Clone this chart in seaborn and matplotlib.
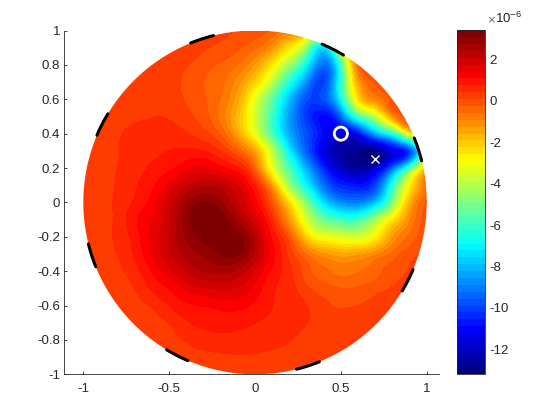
import numpy as np
import matplotlib
matplotlib.use('Agg')
import matplotlib.pyplot as plt
import matplotlib.tri as mtri
from matplotlib.colors import LinearSegmentedColormap
import seaborn as sns

# field samples, units of 1e-6
x_grid = np.round(np.arange(-1, 1.01, 0.1), 1)
y_grid = np.round(np.arange(1, -1.01, -0.1), 1)
field_rows = [
    [.25, .25, .25, .25, .25, .25, .25, .25, .15, .05, -.1, -.3, -.8, -1.5, -3, -1.5, -.3, 0, .05, .1, .2],
    [.25, .25, .25, .25, .25, .25, .25, .12, 0, -.2, -.5, -1.2, -2.5, -4.8, -7.5, -3.5, -.3, .1, .2, .2, .2],
    [.25, .25, .25, .25, .25, .2, .1, -.1, -.3, -.6, -1.3, -2.6, -4.5, -7, -9.3, -6, -.6, .1, .2, .2, .2],
    [.25, .25, .25, .25, .25, .15, .02, -.25, -.5, -1.1, -2.2, -4, -6.5, -8.8, -10, -6.3, -1.5, -.2, .15, .2, .2],
    [.25, .25, .25, .25, .3, .2, .05, -.2, -.6, -1.5, -3.3, -5.5, -8, -9.8, -9.8, -7, -2.5, -1, -.1, .1, .2],
    [.25, .25, .3, .35, .4, .38, .18, -.1, -.7, -1.8, -3.6, -6, -8.5, -10.2, -11, -9.5, -6, -4, -1.2, -.1, .1],
    [.25, .3, .38, .5, .55, .55, .45, .2, -.3, -1.5, -3.2, -5.8, -8.3, -9.8, -11, -11.7, -11, -8.5, -6.5, -3, -.2],
    [.25, .3, .4, .55, .65, .75, .8, .75, .4, -.3, -1.5, -4, -7.2, -9.6, -11.5, -12.5, -12.8, -12.9, -11.5, -10, -4],
    [.25, .3, .42, .6, .8, 1, 1.3, 1.5, 1.2, .8, -.5, -3.3, -5.8, -8.3, -10.5, -12, -12.6, -12, -9.5, -6, -1.5],
    [.25, .3, .45, .7, 1, 1.5, 2, 2.3, 2.2, 1.7, .7, -1.4, -4.5, -7, -9.3, -10.5, -10.8, -10, -6.5, -2.8, -.5],
    [.25, .3, .48, .8, 1.2, 1.9, 2.7, 3.1, 2.8, 2.1, 1.2, -.2, -2.4, -5, -7.5, -8.8, -9, -8, -5, -1.7, -.2],
    [.25, .3, .5, 1, 1.4, 2, 2.9, 3.4, 3.3, 2.6, 1.8, .5, -1.3, -3.6, -5.3, -6, -6, -4.5, -2.6, -1, -.1],
    [.25, .3, .48, .9, 1.5, 2.1, 2.8, 3.2, 3.4, 3.2, 2.3, 1, -.2, -2.2, -3.2, -3.5, -3.6, -2.8, -1.3, -.5, 0],
    [.25, .28, .42, .8, 1.4, 2, 2.5, 2.8, 3.1, 3.1, 2.3, 1.2, .3, -.6, -1.2, -1.5, -1.4, -1, -.5, -.05, .1],
    [.25, .25, .35, .6, 1.1, 1.6, 2.1, 2.4, 2.5, 2.3, 1.7, 1, .5, -.1, -.5, -.7, -.6, -.4, -.1, .1, .2],
    [.25, .25, .3, .42, .8, 1.1, 1.5, 1.7, 1.8, 1.7, 1.3, .8, .55, .15, -.1, -.25, -.2, -.05, .1, .2, .2],
    [.25, .25, .25, .3, .45, .75, 1, 1.1, 1.2, 1.2, 1, .75, .6, .42, .15, .05, .08, .15, .2, .2, .2],
    [.25, .25, .25, .25, .3, .42, .7, .8, .85, .85, .75, .65, .55, .42, .25, .2, .2, .2, .2, .2, .2],
    [.25, .25, .25, .25, .25, .3, .45, .6, .65, .6, .55, .5, .43, .3, .25, .25, .25, .25, .25, .25, .25],
    [.25, .25, .25, .25, .25, .25, .25, .3, .35, .38, .38, .35, .3, .25, .25, .25, .25, .25, .25, .25, .25],
    [.25] * 21,
]
electrode_deg = [18, 63, 108, 153, 198, 243, 288, 333]
x_ticks = [-1, -0.5, 0, 0.5, 1]
y_ticks = [-1, -0.8, -0.6, -0.4, -0.2, 0, 0.2, 0.4, 0.6, 0.8, 1]
cbar_ticks = [-12, -10, -8, -6, -4, -2, 0, 2]
source_xy = (0.5, 0.4)
estimate_xy = (0.7, 0.25)

sns.set_style('ticks')
plt.rcParams['font.family'] = ['Liberation Sans', 'DejaVu Sans']
plt.rcParams['axes.unicode_minus'] = False
plt.rcParams['mathtext.default'] = 'regular'
ink = '#262626'

# MATLAB flavour of jet, its stops differ a bit from matplotlib's
jet_stops = [(0, '#00007f'), (0.125, '#0000ff'), (0.375, '#00ffff'),
             (0.625, '#ffff00'), (0.875, '#ff0000'), (1, '#7f0000')]
jet_map = LinearSegmentedColormap.from_list('matlab_jet', jet_stops, N=50)

fig = plt.figure(figsize=(5.6, 4.2), dpi=100)
ax = fig.add_axes([64.3 / 560, 1 - 374.3 / 420, (439 - 64.3) / 560, (374.3 - 30.5) / 420])
cax = fig.add_axes([457.3 / 560, 1 - 374.3 / 420, 28 / 560, 344 / 420])

# contour bands on a refined mesh, clipped to the unit disc
levels = np.linspace(-13.2, 3.4, 51)
gx, gy = np.meshgrid(x_grid, y_grid)
tri = mtri.Triangulation(gx.ravel(), gy.ravel())
fine_tri, fine_z = mtri.UniformTriRefiner(tri).refine_field(np.array(field_rows, dtype=float).ravel(), subdiv=3)
cs = ax.tricontourf(fine_tri, np.clip(fine_z, -13.19, 3.39), levels=levels, cmap=jet_map)
cs.set_clip_path(plt.Circle((0, 0), 1, transform=ax.transData))

# electrodes on the rim
for deg in electrode_deg:
    t = np.radians(np.linspace(deg - 4, deg + 4, 12))
    sns.lineplot(x=np.cos(t), y=np.sin(t), sort=False, color='black', lw=2.2, ax=ax,
                 estimator=None, clip_on=False, legend=False)

sns.scatterplot(x=[source_xy[0]], y=[source_xy[1]], marker='o', s=90, facecolor='none',
                edgecolor='white', linewidth=2, ax=ax, zorder=5)
ax.plot(*estimate_xy, marker='x', ms=5.5, mew=1, color='white', zorder=5)

ax.set_xlim(-1.1107, 1.0716)
ax.set_ylim(-1, 1)
ax.set_xticks(x_ticks, ['-1', '-0.5', '0', '0.5', '1'])
ax.set_yticks(y_ticks, ['-1', '-0.8', '-0.6', '-0.4', '-0.2', '0', '0.2', '0.4', '0.6', '0.8', '1'])
ax.tick_params(direction='in', length=2.5, width=0.6, color=ink, labelcolor=ink, labelsize=9.5, pad=3)
ax.tick_params(axis='x', pad=6)
sns.despine(ax=ax)
for side in ['left', 'bottom']:
    ax.spines[side].set_linewidth(0.6)
    ax.spines[side].set_color(ink)

cb = fig.colorbar(cs, cax=cax, ticks=cbar_ticks)
cb.ax.set_yticklabels([str(v) for v in cbar_ticks])
cax.tick_params(direction='in', length=2.5, width=0.6, color=ink, labelcolor=ink, labelsize=9.5, pad=3)
cb.outline.set_linewidth(0.6)
cb.outline.set_edgecolor(ink)
fig.text(487 / 560, 1 - 23 / 420, '×', color='#666666', fontsize=9.5, ha='left', va='baseline')
fig.text(495 / 560, 1 - 23 / 420, '10$^{-6}$', color=ink, fontsize=9.5, ha='left', va='baseline')

fig.savefig('out.png', dpi=100)
